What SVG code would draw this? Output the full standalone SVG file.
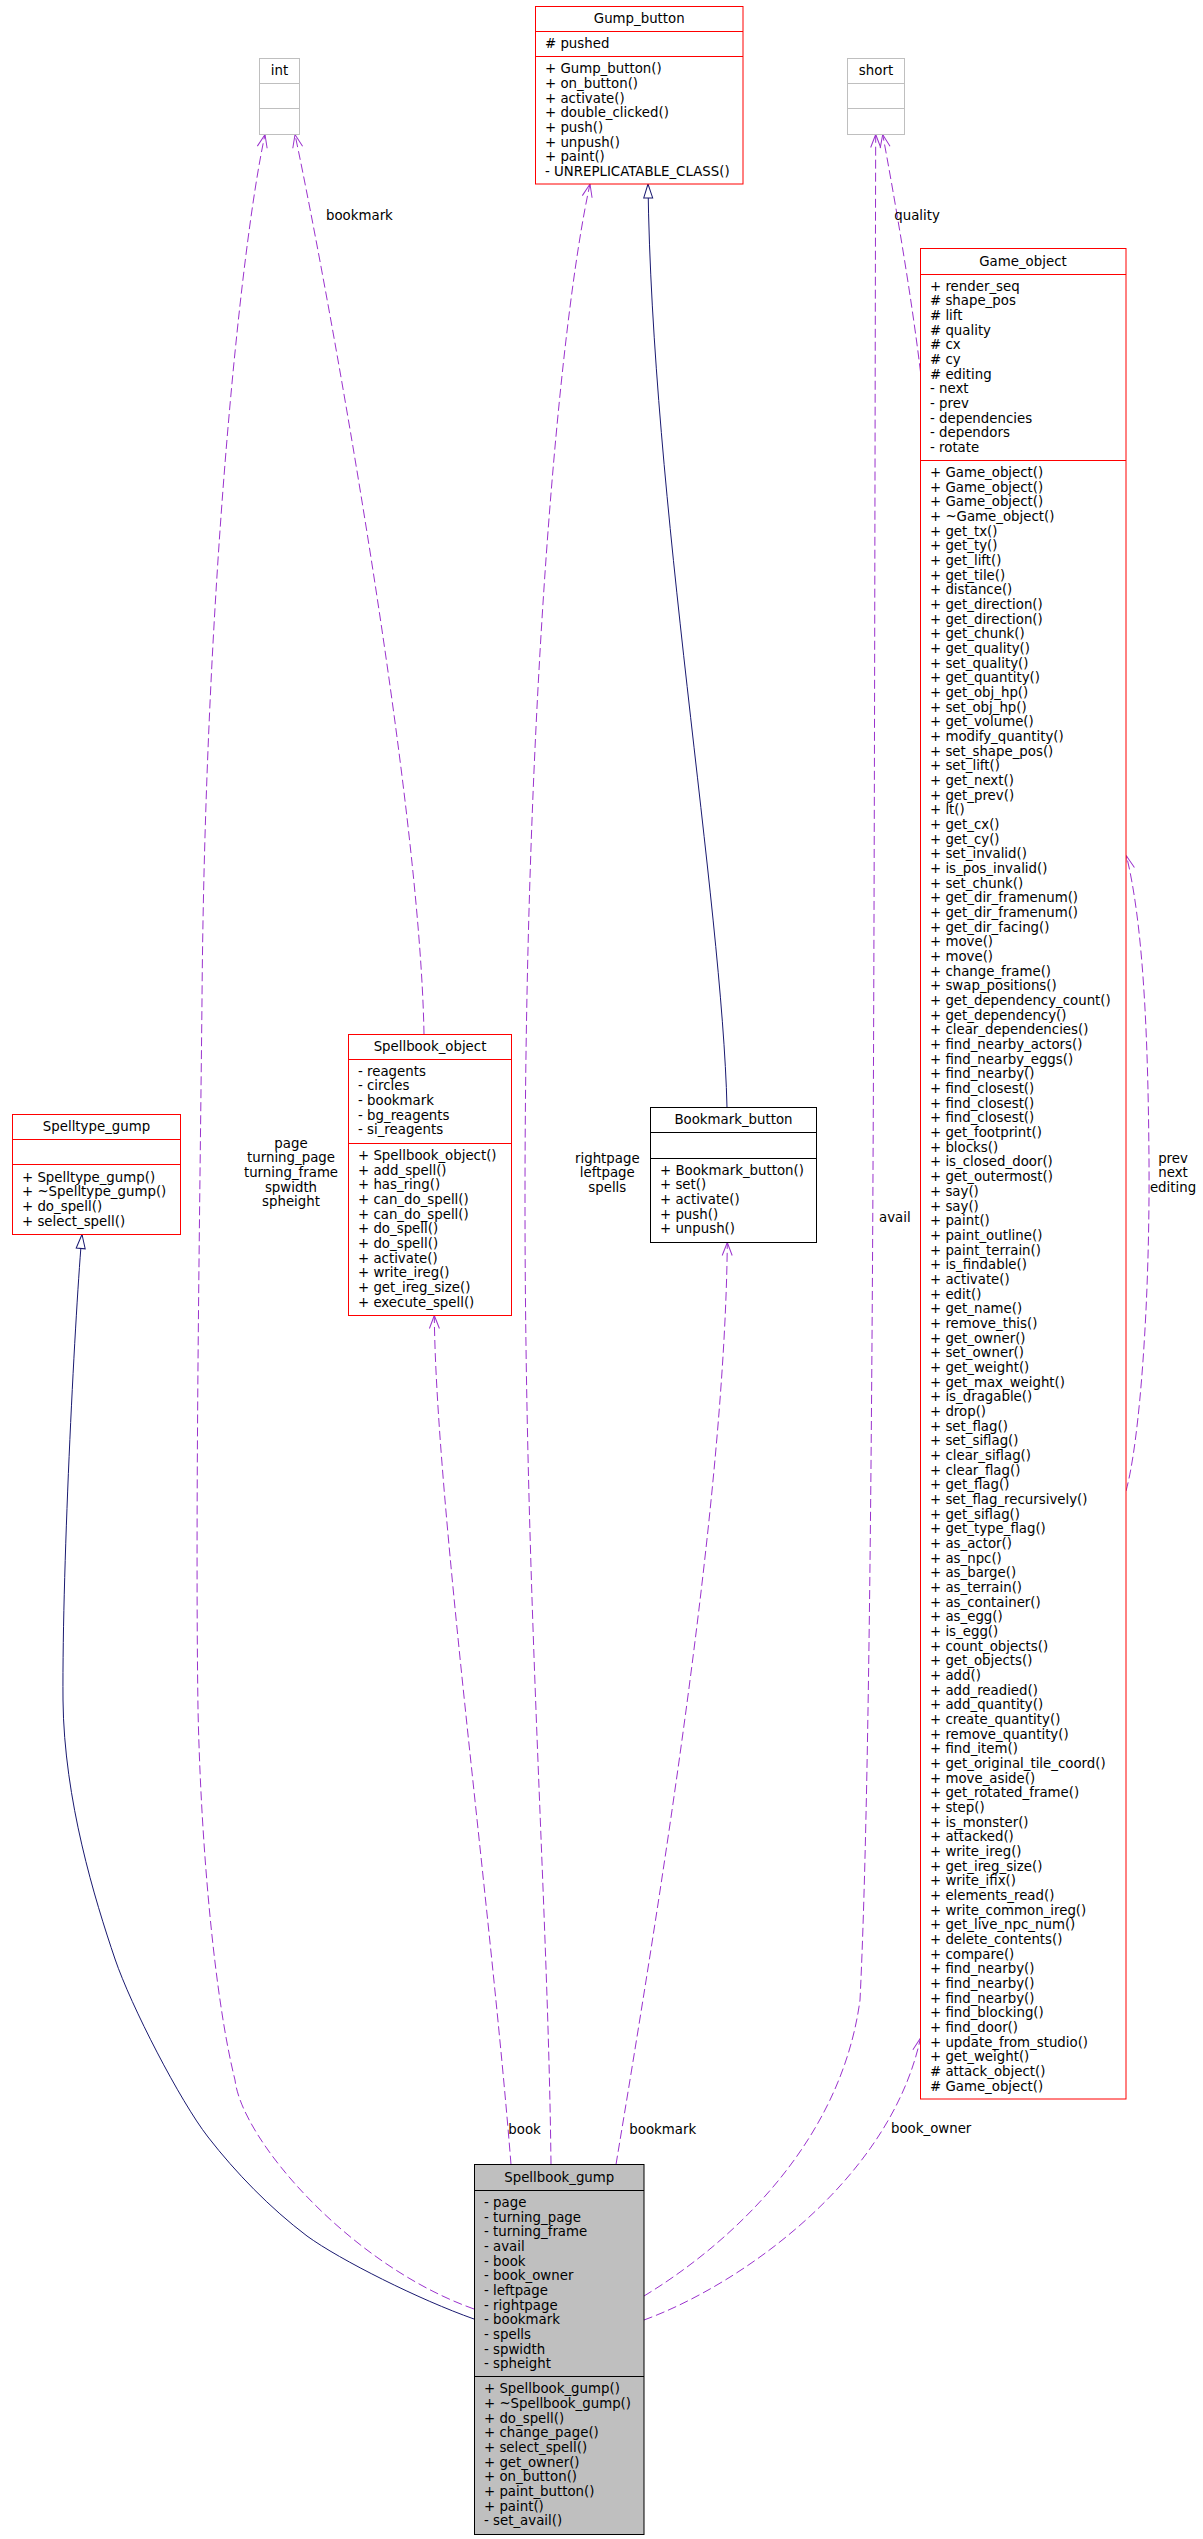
<svg xmlns="http://www.w3.org/2000/svg" width="1203" height="2539" viewBox="0 0 1203 2539">
<style>
text{font-family:"DejaVu Sans","Liberation Sans",sans-serif;font-size:13.33px;fill:#000}
.c{text-anchor:middle}
.red{fill:#fff;stroke:#ff0000;stroke-width:1}
.gray{fill:#fff;stroke:#bfbfbf;stroke-width:1}
.blk{fill:#fff;stroke:#000;stroke-width:1}
.cur{fill:#bfbfbf;stroke:#000;stroke-width:1}
.sr{stroke:#ff0000;stroke-width:1}
.sg{stroke:#bfbfbf;stroke-width:1}
.sb{stroke:#000;stroke-width:1}
.dep{fill:none;stroke:#9a32cd;stroke-width:1;stroke-dasharray:9,4;marker-end:url(#open)}
.inh{fill:none;stroke:#191970;stroke-width:1;marker-end:url(#tri)}
</style>
<defs>
<marker id="open" markerUnits="userSpaceOnUse" orient="auto" overflow="visible" refX="0" refY="0" markerWidth="20" markerHeight="20"><path d="M-13,-5 L0,0 L-13,5" fill="none" stroke="#9a32cd" stroke-width="1"/></marker>
<marker id="tri" markerUnits="userSpaceOnUse" orient="auto" overflow="visible" refX="0" refY="0" markerWidth="20" markerHeight="20"><path d="M-14,-4.5 L0,0 L-14,4.5 Z" fill="#fff" stroke="#191970" stroke-width="1"/></marker>
</defs>
<rect width="1203" height="2539" fill="#fff"/>

<g id="connectors">
<path class="inh" d="M474,2319 C420,2300 340,2260 307,2236 C270,2208 236,2173 208,2137 C180,2101 131,2006 115,1959 C95,1900 64,1800 63,1700 C62,1560 76,1300 82,1234.5"/>
<path class="inh" d="M727,1107.5 C722,900 652,500 648,184"/>
<path class="dep" d="M474,2309 C350,2265 242,2140 235,2080 C215,2000 201,1850 198,1709 C195,1500 200,1200 202,1000 C205,600 240,250 265,134.5"/>
<path class="dep" d="M424,1034.5 C420,800 330,300 295,134.5"/>
<path class="dep" d="M511,2164.5 C490,1900 436,1500 434.3,1315.5"/>
<path class="dep" d="M551,2164.5 C548,1900 525,1600 525,1200 C525,700 560,320 590,184"/>
<path class="dep" d="M616,2164.5 C660,1900 725,1500 727.3,1242.5"/>
<path class="dep" d="M644,2296 C720,2250 840,2150 860,2000 C875,1700 874,800 875.7,134.5"/>
<path class="dep" d="M920.5,372 C912,300 895,200 882.7,134.5"/>
<path class="dep" d="M644,2320 C740,2285 890,2180 920.5,2038"/>
<path class="dep" d="M1126,1491 C1140,1440 1150,1300 1149,1160 C1148,1020 1142,920 1126.5,856"/>
<text x="326" y="219.5">bookmark</text>
<text x="894.3" y="220">quality</text>
<text class="c" x="291" y="1147.5">page<tspan x="291" dy="14.67">turning_page</tspan><tspan x="291" dy="14.67">turning_frame</tspan><tspan x="291" dy="14.67">spwidth</tspan><tspan x="291" dy="14.67">spheight</tspan></text>
<text class="c" x="607.3" y="1162.7">rightpage<tspan x="607.3" dy="14.67">leftpage</tspan><tspan x="607.3" dy="14.67">spells</tspan></text>
<text x="879" y="1222">avail</text>
<text class="c" x="1173" y="1162.5">prev<tspan x="1173" dy="14.67">next</tspan><tspan x="1173" dy="14.67">editing</tspan></text>
<text x="508.3" y="2134.3">book</text>
<text x="629.3" y="2134.3">bookmark</text>
<text x="891" y="2133">book_owner</text>
</g>

<g id="Gump_button">
<rect class="red" x="535.5" y="6.5" width="207.5" height="177.5"/>
<line class="sr" x1="535.5" y1="31.5" x2="743" y2="31.5"/>
<line class="sr" x1="535.5" y1="56.5" x2="743" y2="56.5"/>
<text class="c" x="639.25" y="23">Gump_button</text>
<text x="545" y="48"># pushed</text>
<text x="545" y="73.3">+ Gump_button()<tspan x="545" dy="14.67">+ on_button()</tspan><tspan x="545" dy="14.67">+ activate()</tspan><tspan x="545" dy="14.67">+ double_clicked()</tspan><tspan x="545" dy="14.67">+ push()</tspan><tspan x="545" dy="14.67">+ unpush()</tspan><tspan x="545" dy="14.67">+ paint()</tspan><tspan x="545" dy="14.67">- UNREPLICATABLE_CLASS()</tspan></text>
</g>

<g id="int">
<rect class="gray" x="259.5" y="58.5" width="40" height="76"/>
<line class="sg" x1="259.5" y1="83.5" x2="299.5" y2="83.5"/>
<line class="sg" x1="259.5" y1="108.5" x2="299.5" y2="108.5"/>
<text class="c" x="279.5" y="75.3">int</text>
</g>

<g id="short">
<rect class="gray" x="847.5" y="58.5" width="57" height="76"/>
<line class="sg" x1="847.5" y1="83.5" x2="904.5" y2="83.5"/>
<line class="sg" x1="847.5" y1="108.5" x2="904.5" y2="108.5"/>
<text class="c" x="876" y="75.3">short</text>
</g>

<g id="Game_object">
<rect class="red" x="920.5" y="248.5" width="205.5" height="1850.5"/>
<line class="sr" x1="920.5" y1="274.5" x2="1126" y2="274.5"/>
<line class="sr" x1="920.5" y1="460.5" x2="1126" y2="460.5"/>
<text class="c" x="1023" y="266">Game_object</text>
<text x="930" y="290.5">+ render_seq<tspan x="930" dy="14.67"># shape_pos</tspan><tspan x="930" dy="14.67"># lift</tspan><tspan x="930" dy="14.67"># quality</tspan><tspan x="930" dy="14.67"># cx</tspan><tspan x="930" dy="14.67"># cy</tspan><tspan x="930" dy="14.67"># editing</tspan><tspan x="930" dy="14.67">- next</tspan><tspan x="930" dy="14.67">- prev</tspan><tspan x="930" dy="14.67">- dependencies</tspan><tspan x="930" dy="14.67">- dependors</tspan><tspan x="930" dy="14.67">- rotate</tspan></text>
<text x="930" y="477">+ Game_object()<tspan x="930" dy="14.67">+ Game_object()</tspan><tspan x="930" dy="14.67">+ Game_object()</tspan><tspan x="930" dy="14.67">+ ~Game_object()</tspan><tspan x="930" dy="14.67">+ get_tx()</tspan><tspan x="930" dy="14.67">+ get_ty()</tspan><tspan x="930" dy="14.67">+ get_lift()</tspan><tspan x="930" dy="14.67">+ get_tile()</tspan><tspan x="930" dy="14.67">+ distance()</tspan><tspan x="930" dy="14.67">+ get_direction()</tspan><tspan x="930" dy="14.67">+ get_direction()</tspan><tspan x="930" dy="14.67">+ get_chunk()</tspan><tspan x="930" dy="14.67">+ get_quality()</tspan><tspan x="930" dy="14.67">+ set_quality()</tspan><tspan x="930" dy="14.67">+ get_quantity()</tspan><tspan x="930" dy="14.67">+ get_obj_hp()</tspan><tspan x="930" dy="14.67">+ set_obj_hp()</tspan><tspan x="930" dy="14.67">+ get_volume()</tspan><tspan x="930" dy="14.67">+ modify_quantity()</tspan><tspan x="930" dy="14.67">+ set_shape_pos()</tspan><tspan x="930" dy="14.67">+ set_lift()</tspan><tspan x="930" dy="14.67">+ get_next()</tspan><tspan x="930" dy="14.67">+ get_prev()</tspan><tspan x="930" dy="14.67">+ lt()</tspan><tspan x="930" dy="14.67">+ get_cx()</tspan><tspan x="930" dy="14.67">+ get_cy()</tspan><tspan x="930" dy="14.67">+ set_invalid()</tspan><tspan x="930" dy="14.67">+ is_pos_invalid()</tspan><tspan x="930" dy="14.67">+ set_chunk()</tspan><tspan x="930" dy="14.67">+ get_dir_framenum()</tspan><tspan x="930" dy="14.67">+ get_dir_framenum()</tspan><tspan x="930" dy="14.67">+ get_dir_facing()</tspan><tspan x="930" dy="14.67">+ move()</tspan><tspan x="930" dy="14.67">+ move()</tspan><tspan x="930" dy="14.67">+ change_frame()</tspan><tspan x="930" dy="14.67">+ swap_positions()</tspan><tspan x="930" dy="14.67">+ get_dependency_count()</tspan><tspan x="930" dy="14.67">+ get_dependency()</tspan><tspan x="930" dy="14.67">+ clear_dependencies()</tspan><tspan x="930" dy="14.67">+ find_nearby_actors()</tspan><tspan x="930" dy="14.67">+ find_nearby_eggs()</tspan><tspan x="930" dy="14.67">+ find_nearby()</tspan><tspan x="930" dy="14.67">+ find_closest()</tspan><tspan x="930" dy="14.67">+ find_closest()</tspan><tspan x="930" dy="14.67">+ find_closest()</tspan><tspan x="930" dy="14.67">+ get_footprint()</tspan><tspan x="930" dy="14.67">+ blocks()</tspan><tspan x="930" dy="14.67">+ is_closed_door()</tspan><tspan x="930" dy="14.67">+ get_outermost()</tspan><tspan x="930" dy="14.67">+ say()</tspan><tspan x="930" dy="14.67">+ say()</tspan><tspan x="930" dy="14.67">+ paint()</tspan><tspan x="930" dy="14.67">+ paint_outline()</tspan><tspan x="930" dy="14.67">+ paint_terrain()</tspan><tspan x="930" dy="14.67">+ is_findable()</tspan><tspan x="930" dy="14.67">+ activate()</tspan><tspan x="930" dy="14.67">+ edit()</tspan><tspan x="930" dy="14.67">+ get_name()</tspan><tspan x="930" dy="14.67">+ remove_this()</tspan><tspan x="930" dy="14.67">+ get_owner()</tspan><tspan x="930" dy="14.67">+ set_owner()</tspan><tspan x="930" dy="14.67">+ get_weight()</tspan><tspan x="930" dy="14.67">+ get_max_weight()</tspan><tspan x="930" dy="14.67">+ is_dragable()</tspan><tspan x="930" dy="14.67">+ drop()</tspan><tspan x="930" dy="14.67">+ set_flag()</tspan><tspan x="930" dy="14.67">+ set_siflag()</tspan><tspan x="930" dy="14.67">+ clear_siflag()</tspan><tspan x="930" dy="14.67">+ clear_flag()</tspan><tspan x="930" dy="14.67">+ get_flag()</tspan><tspan x="930" dy="14.67">+ set_flag_recursively()</tspan><tspan x="930" dy="14.67">+ get_siflag()</tspan><tspan x="930" dy="14.67">+ get_type_flag()</tspan><tspan x="930" dy="14.67">+ as_actor()</tspan><tspan x="930" dy="14.67">+ as_npc()</tspan><tspan x="930" dy="14.67">+ as_barge()</tspan><tspan x="930" dy="14.67">+ as_terrain()</tspan><tspan x="930" dy="14.67">+ as_container()</tspan><tspan x="930" dy="14.67">+ as_egg()</tspan><tspan x="930" dy="14.67">+ is_egg()</tspan><tspan x="930" dy="14.67">+ count_objects()</tspan><tspan x="930" dy="14.67">+ get_objects()</tspan><tspan x="930" dy="14.67">+ add()</tspan><tspan x="930" dy="14.67">+ add_readied()</tspan><tspan x="930" dy="14.67">+ add_quantity()</tspan><tspan x="930" dy="14.67">+ create_quantity()</tspan><tspan x="930" dy="14.67">+ remove_quantity()</tspan><tspan x="930" dy="14.67">+ find_item()</tspan><tspan x="930" dy="14.67">+ get_original_tile_coord()</tspan><tspan x="930" dy="14.67">+ move_aside()</tspan><tspan x="930" dy="14.67">+ get_rotated_frame()</tspan><tspan x="930" dy="14.67">+ step()</tspan><tspan x="930" dy="14.67">+ is_monster()</tspan><tspan x="930" dy="14.67">+ attacked()</tspan><tspan x="930" dy="14.67">+ write_ireg()</tspan><tspan x="930" dy="14.67">+ get_ireg_size()</tspan><tspan x="930" dy="14.67">+ write_ifix()</tspan><tspan x="930" dy="14.67">+ elements_read()</tspan><tspan x="930" dy="14.67">+ write_common_ireg()</tspan><tspan x="930" dy="14.67">+ get_live_npc_num()</tspan><tspan x="930" dy="14.67">+ delete_contents()</tspan><tspan x="930" dy="14.67">+ compare()</tspan><tspan x="930" dy="14.67">+ find_nearby()</tspan><tspan x="930" dy="14.67">+ find_nearby()</tspan><tspan x="930" dy="14.67">+ find_nearby()</tspan><tspan x="930" dy="14.67">+ find_blocking()</tspan><tspan x="930" dy="14.67">+ find_door()</tspan><tspan x="930" dy="14.67">+ update_from_studio()</tspan><tspan x="930" dy="14.67">+ get_weight()</tspan><tspan x="930" dy="14.67"># attack_object()</tspan><tspan x="930" dy="14.67"># Game_object()</tspan></text>
</g>

<g id="Spelltype_gump">
<rect class="red" x="12.5" y="1114.5" width="168" height="120"/>
<line class="sr" x1="12.5" y1="1139.5" x2="180.5" y2="1139.5"/>
<line class="sr" x1="12.5" y1="1164.5" x2="180.5" y2="1164.5"/>
<text class="c" x="96.5" y="1131">Spelltype_gump</text>
<text x="22" y="1181.5">+ Spelltype_gump()<tspan x="22" dy="14.67">+ ~Spelltype_gump()</tspan><tspan x="22" dy="14.67">+ do_spell()</tspan><tspan x="22" dy="14.67">+ select_spell()</tspan></text>
</g>

<g id="Spellbook_object">
<rect class="red" x="348.5" y="1034.5" width="163" height="281"/>
<line class="sr" x1="348.5" y1="1059.5" x2="511.5" y2="1059.5"/>
<line class="sr" x1="348.5" y1="1143.5" x2="511.5" y2="1143.5"/>
<text class="c" x="430" y="1051">Spellbook_object</text>
<text x="358" y="1075.8">- reagents<tspan x="358" dy="14.67">- circles</tspan><tspan x="358" dy="14.67">- bookmark</tspan><tspan x="358" dy="14.67">- bg_reagents</tspan><tspan x="358" dy="14.67">- si_reagents</tspan></text>
<text x="358" y="1160">+ Spellbook_object()<tspan x="358" dy="14.67">+ add_spell()</tspan><tspan x="358" dy="14.67">+ has_ring()</tspan><tspan x="358" dy="14.67">+ can_do_spell()</tspan><tspan x="358" dy="14.67">+ can_do_spell()</tspan><tspan x="358" dy="14.67">+ do_spell()</tspan><tspan x="358" dy="14.67">+ do_spell()</tspan><tspan x="358" dy="14.67">+ activate()</tspan><tspan x="358" dy="14.67">+ write_ireg()</tspan><tspan x="358" dy="14.67">+ get_ireg_size()</tspan><tspan x="358" dy="14.67">+ execute_spell()</tspan></text>
</g>

<g id="Bookmark_button">
<rect class="blk" x="650.5" y="1107.5" width="166" height="135"/>
<line class="sb" x1="650.5" y1="1132.5" x2="816.5" y2="1132.5"/>
<line class="sb" x1="650.5" y1="1158.5" x2="816.5" y2="1158.5"/>
<text class="c" x="733.5" y="1124.3">Bookmark_button</text>
<text x="660" y="1174.8">+ Bookmark_button()<tspan x="660" dy="14.67">+ set()</tspan><tspan x="660" dy="14.67">+ activate()</tspan><tspan x="660" dy="14.67">+ push()</tspan><tspan x="660" dy="14.67">+ unpush()</tspan></text>
</g>

<g id="Spellbook_gump">
<rect class="cur" x="474.5" y="2164.5" width="169.5" height="370"/>
<line class="sb" x1="474.5" y1="2190.5" x2="644" y2="2190.5"/>
<line class="sb" x1="474.5" y1="2376.5" x2="644" y2="2376.5"/>
<text class="c" x="559.25" y="2182">Spellbook_gump</text>
<text x="484" y="2207">- page<tspan x="484" dy="14.67">- turning_page</tspan><tspan x="484" dy="14.67">- turning_frame</tspan><tspan x="484" dy="14.67">- avail</tspan><tspan x="484" dy="14.67">- book</tspan><tspan x="484" dy="14.67">- book_owner</tspan><tspan x="484" dy="14.67">- leftpage</tspan><tspan x="484" dy="14.67">- rightpage</tspan><tspan x="484" dy="14.67">- bookmark</tspan><tspan x="484" dy="14.67">- spells</tspan><tspan x="484" dy="14.67">- spwidth</tspan><tspan x="484" dy="14.67">- spheight</tspan></text>
<text x="484" y="2393.3">+ Spellbook_gump()<tspan x="484" dy="14.67">+ ~Spellbook_gump()</tspan><tspan x="484" dy="14.67">+ do_spell()</tspan><tspan x="484" dy="14.67">+ change_page()</tspan><tspan x="484" dy="14.67">+ select_spell()</tspan><tspan x="484" dy="14.67">+ get_owner()</tspan><tspan x="484" dy="14.67">+ on_button()</tspan><tspan x="484" dy="14.67">+ paint_button()</tspan><tspan x="484" dy="14.67">+ paint()</tspan><tspan x="484" dy="14.67">- set_avail()</tspan></text>
</g>
</svg>
